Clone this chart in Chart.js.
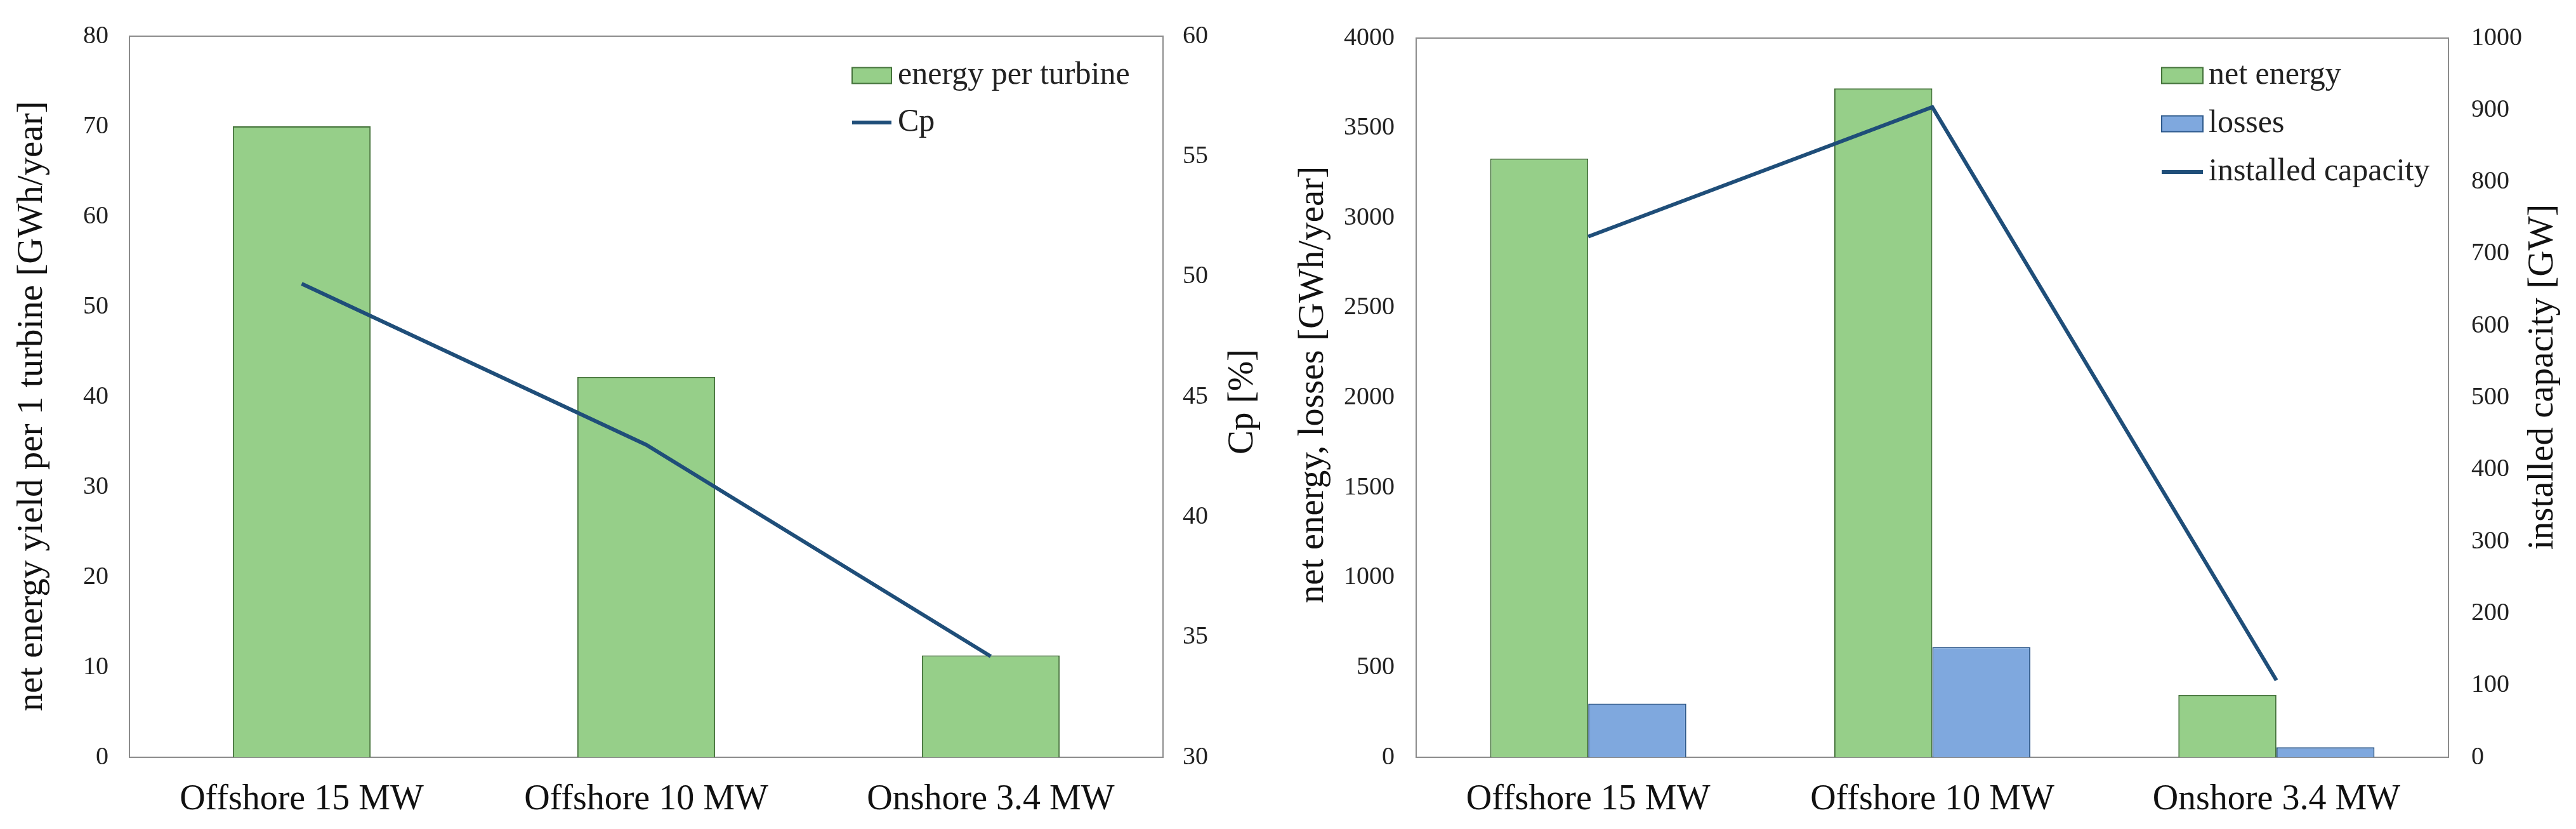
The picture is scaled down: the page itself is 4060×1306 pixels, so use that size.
<!DOCTYPE html>
<html>
<head>
<meta charset="utf-8">
<script src="https://cdn.jsdelivr.net/npm/chart.js@4.4.1/dist/chart.umd.min.js"></script>
<style>
  html, body { margin: 0; padding: 0; background: #fff; }
  #wrap { position: relative; width: 4060px; height: 1306px; }
  canvas { position: absolute; top: 0; }
</style>
</head>
<body>
<div id="wrap">
  <canvas id="perTurbine" width="2030" height="1306" style="left:0"></canvas>
  <canvas id="fleet" width="2030" height="1306" style="left:2030px"></canvas>
</div>
<script>
// values
const categories = ["Offshore 15 MW", "Offshore 10 MW", "Onshore 3.4 MW"];
const energyPerTurbine = [70, 42.2, 11.3];     // GWh/year
const cp = [49.7, 43.0, 34.2];                 // %
const netEnergy = [3330, 3720, 347];           // GWh/year
const losses = [298, 613, 56];                 // GWh/year
const installedCapacity = [724, 904, 107];     // GW

// axis ranges: [min, max, step]
const yieldAxis = [0, 80, 10];
const cpAxis = [30, 60, 5];
const energyAxis = [0, 4000, 500];
const capacityAxis = [0, 1000, 100];

const serif = "'Liberation Serif', 'DejaVu Serif', serif";
const green = "#96cf89", greenEdge = "#44733a";
const blue = "#7fa8de", blueEdge = "#2f5a8c";
const lineBlue = "#1f4e79";

Chart.defaults.font.family = serif;
Chart.defaults.color = "#222";

// plot frame (Excel style box round the plot area)
const frame = {
  id: "frame",
  beforeDatasetsDraw(chart) {
    const a = chart.chartArea, ctx = chart.ctx;
    ctx.save();
    ctx.strokeStyle = "#8c8c8c";
    ctx.lineWidth = 2;
    ctx.strokeRect(a.left, a.top, a.right - a.left, a.bottom - a.top);
    ctx.restore();
  }
};

// legend drawn inside the plot, top right
const boxLegend = {
  id: "boxLegend",
  afterDraw(chart, args, opts) {
    const a = chart.chartArea, ctx = chart.ctx;
    const x = a.right - opts.right;
    let y = a.top + opts.top;
    ctx.save();
    ctx.font = opts.size + "px " + serif;
    ctx.textBaseline = "middle";
    chart.data.datasets.forEach(ds => {
      if (ds.type === "line") {
        ctx.strokeStyle = ds.borderColor;
        ctx.lineWidth = ds.borderWidth;
        ctx.beginPath();
        ctx.moveTo(x, y);
        ctx.lineTo(x + opts.boxW, y);
        ctx.stroke();
      } else {
        ctx.fillStyle = ds.backgroundColor;
        ctx.fillRect(x, y - opts.boxH / 2, opts.boxW, opts.boxH);
        ctx.strokeStyle = ds.borderColor;
        ctx.lineWidth = 2;
        ctx.strokeRect(x, y - opts.boxH / 2, opts.boxW, opts.boxH);
      }
      ctx.fillStyle = "#222";
      ctx.fillText(ds.label, x + opts.boxW + opts.gap, y);
      y += opts.rowGap;
    });
    ctx.restore();
  }
};

// rotated axis titles, both reading bottom to top
const axisTitles = {
  id: "axisTitles",
  afterDraw(chart, args, opts) {
    const ctx = chart.ctx;
    ctx.save();
    ctx.font = opts.size + "px " + serif;
    ctx.fillStyle = "#111";
    ctx.textAlign = "center";
    ctx.textBaseline = "middle";
    opts.items.forEach(t => {
      ctx.save();
      ctx.translate(t.x, t.y);
      ctx.rotate(-Math.PI / 2);
      ctx.fillText(t.text, 0, 0);
      ctx.restore();
    });
    ctx.restore();
  }
};

const tickFont = { family: serif, size: 40 };
const catFont = { family: serif, size: 56 };

function yScale(range, position, width, pad) {
  return {
    type: "linear",
    position: position,
    min: range[0],
    max: range[1],
    grid: { display: false, drawTicks: false },
    border: { display: false },
    ticks: {
      stepSize: range[2],
      font: tickFont,
      padding: pad,
      color: "#222",
      callback: v => String(v)
    },
    afterFit: s => { s.width = width; }
  };
}

function xScale() {
  return {
    type: "category",
    grid: { display: false, drawTicks: false },
    border: { display: false },
    ticks: { font: catFont, padding: 34, color: "#111" },
    afterFit: s => { s.height = 113; }
  };
}

new Chart(document.getElementById("perTurbine"), {
  type: "bar",
  data: {
    labels: categories,
    datasets: [
      {
        type: "bar",
        label: "energy per turbine",
        data: energyPerTurbine,
        backgroundColor: green,
        borderColor: greenEdge,
        borderWidth: 2,
        categoryPercentage: 0.4,
        barPercentage: 1.0,
        yAxisID: "y",
        order: 1
      },
      {
        type: "line",
        label: "Cp",
        data: cp,
        borderColor: lineBlue,
        borderWidth: 6,
        pointRadius: 0,
        tension: 0,
        fill: false,
        yAxisID: "y1",
        order: 0
      }
    ]
  },
  options: {
    responsive: false,
    devicePixelRatio: 1,
    animation: false,
    layout: { padding: { top: 49, left: 0, right: 0, bottom: 0 } },
    plugins: {
      legend: { display: false },
      tooltip: { enabled: false },
      boxLegend: { right: 490, top: 62, boxW: 62, boxH: 25, gap: 10, rowGap: 74, size: 50 },
      axisTitles: {
        size: 57,
        items: [
          { text: "net energy yield per 1 turbine [GWh/year]", x: 51, y: 640 },
          { text: "Cp [%]", x: 1959, y: 633 }
        ]
      }
    },
    scales: {
      x: xScale(),
      y: yScale(yieldAxis, "left", 204, 33),
      y1: yScale(cpAxis, "right", 197, 31)
    }
  },
  plugins: [frame, boxLegend, axisTitles]
});

new Chart(document.getElementById("fleet"), {
  type: "bar",
  data: {
    labels: categories,
    datasets: [
      {
        type: "bar",
        label: "net energy",
        data: netEnergy,
        backgroundColor: green,
        borderColor: greenEdge,
        borderWidth: 2,
        categoryPercentage: 0.57,
        barPercentage: 1.0,
        yAxisID: "y",
        order: 1
      },
      {
        type: "bar",
        label: "losses",
        data: losses,
        backgroundColor: blue,
        borderColor: blueEdge,
        borderWidth: 2,
        categoryPercentage: 0.57,
        barPercentage: 1.0,
        yAxisID: "y",
        order: 1
      },
      {
        type: "line",
        label: "installed capacity",
        data: installedCapacity,
        borderColor: lineBlue,
        borderWidth: 6,
        pointRadius: 0,
        tension: 0,
        fill: false,
        yAxisID: "y1",
        order: 0
      }
    ]
  },
  options: {
    responsive: false,
    devicePixelRatio: 1,
    animation: false,
    layout: { padding: { top: 52, left: 0, right: 0, bottom: 0 } },
    plugins: {
      legend: { display: false },
      tooltip: { enabled: false },
      boxLegend: { right: 452, top: 59, boxW: 65, boxH: 25, gap: 9, rowGap: 76, size: 50 },
      axisTitles: {
        size: 57,
        items: [
          { text: "net energy, losses [GWh/year]", x: 40, y: 606 },
          { text: "installed capacity [GW]", x: 1978, y: 594 }
        ]
      }
    },
    scales: {
      x: xScale(),
      y: yScale(energyAxis, "left", 202, 34),
      y1: yScale(capacityAxis, "right", 201, 36)
    }
  },
  plugins: [frame, boxLegend, axisTitles]
});
</script>
</body>
</html>
